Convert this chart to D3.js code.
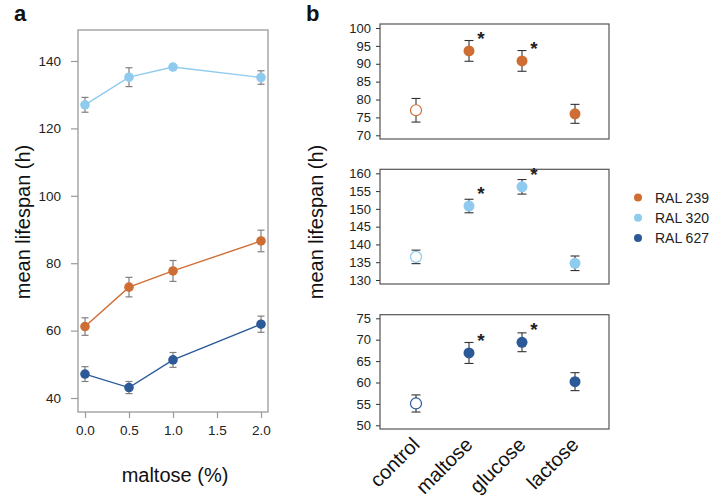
<!DOCTYPE html>
<html>
<head>
<meta charset="utf-8">
<script src="https://cdn.jsdelivr.net/npm/d3@7"></script>
<style>
  body { margin: 0; background: #fff; }
  svg { font-family: "Liberation Sans", Arial, Helvetica, sans-serif; }
</style>
</head>
<body>
<svg id="chart" width="709" height="501"></svg>
<script>
// ---- data: panel a (maltose dose response) ----
var doses = [0, 0.5, 1.0, 2.0];
var strains = ["RAL 239", "RAL 320", "RAL 627"];
var colors = ["#cf6e34", "#8ecbee", "#2c5a98"];
var meanA_239 = [61.2, 72.9, 77.7, 86.6];
var errA_239 = [2.6, 2.9, 3.1, 3.2];
var meanA_320 = [127.0, 135.2, 138.2, 135.1];
var errA_320 = [2.2, 2.8, 0.6, 2.0];
var meanA_627 = [47.1, 43.1, 51.3, 61.9];
var errA_627 = [2.2, 1.8, 2.2, 2.4];
var doseTicks = [0, 0.5, 1.0, 1.5, 2.0];
var lifespanTicksA = [40, 60, 80, 100, 120, 140];

// ---- data: panel b (sugars) ----
var sugars = ["control", "maltose", "glucose", "lactose"];
var meanB_239 = [77.0, 93.6, 90.8, 76.0];
var errB_239 = [3.3, 2.9, 2.9, 2.65];
var meanB_320 = [136.5, 150.8, 156.2, 134.7];
var errB_320 = [1.9, 1.9, 2.05, 2.05];
var meanB_627 = [55.1, 66.9, 69.4, 60.2];
var errB_627 = [2.0, 2.45, 2.2, 2.1];
var signif = [false, true, true, false];
var ticksB_239 = [70, 75, 80, 85, 90, 95, 100];
var ticksB_320 = [130, 135, 140, 145, 150, 155, 160];
var ticksB_627 = [50, 55, 60, 65, 70, 75];

var svg = d3.select("#chart");

/** Panel a **/
var xA = d3.scaleLinear().domain([0, 2]).range([85, 261]);
var yA = d3.scaleLinear().domain([40, 140]).range([398, 61]);

svg.append("rect")
    .attr("x", 78).attr("y", 30).attr("width", 190).attr("height", 382)
    .attr("fill", "none").attr("stroke", "#9a9a9a").attr("stroke-width", 1.3);

var axA_y = svg.append("g").attr("transform", "translate(78,0)")
    .call(d3.axisLeft(yA).tickValues(lifespanTicksA).tickSize(7).tickPadding(10).tickFormat(d3.format("d")));
var axA_x = svg.append("g").attr("transform", "translate(0,412)")
    .call(d3.axisBottom(xA).tickValues(doseTicks).tickSize(6).tickPadding(7).tickFormat(d3.format(".1f")));
[axA_y, axA_x].forEach(function (ax) {
    ax.select(".domain").remove();
    ax.selectAll("line").attr("stroke", "#9a9a9a").attr("stroke-width", 1.2);
    ax.selectAll("text").attr("fill", "#222").style("font-size", "13.5px");
});

var seriesA = [
    {name: strains[0], color: colors[0], mean: meanA_239, err: errA_239},
    {name: strains[1], color: colors[1], mean: meanA_320, err: errA_320},
    {name: strains[2], color: colors[2], mean: meanA_627, err: errA_627}
];

seriesA.forEach(function (s) {
    var pts = doses.map(function (d, i) { return {x: d, m: s.mean[i], e: s.err[i]}; });
    var line = d3.line().x(function (d) { return xA(d.x); }).y(function (d) { return yA(d.m); });
    svg.append("path").datum(pts)
        .attr("d", line).attr("fill", "none")
        .attr("stroke", s.color).attr("stroke-width", 1.4);
    var g = svg.append("g").selectAll("g").data(pts).enter().append("g");
    g.append("line")
        .attr("x1", function (d) { return xA(d.x); }).attr("x2", function (d) { return xA(d.x); })
        .attr("y1", function (d) { return yA(d.m - d.e); }).attr("y2", function (d) { return yA(d.m + d.e); })
        .attr("stroke", "#808080").attr("stroke-width", 1.2);
    [-1, 1].forEach(function (sign) {
        g.append("line")
            .attr("x1", function (d) { return xA(d.x) - 3.5; }).attr("x2", function (d) { return xA(d.x) + 3.5; })
            .attr("y1", function (d) { return yA(d.m + sign * d.e); }).attr("y2", function (d) { return yA(d.m + sign * d.e); })
            .attr("stroke", "#808080").attr("stroke-width", 1.2);
    });
    g.append("circle")
        .attr("cx", function (d) { return xA(d.x); }).attr("cy", function (d) { return yA(d.m); })
        .attr("r", 4.8).attr("fill", s.color);
});

svg.append("text").text("mean lifespan (h)")
    .attr("transform", "translate(30,222) rotate(-90)")
    .attr("text-anchor", "middle").style("font-size", "20px").attr("fill", "#111");
svg.append("text").text("maltose (%)")
    .attr("x", 175).attr("y", 482)
    .attr("text-anchor", "middle").style("font-size", "20px").attr("fill", "#111");
svg.append("text").text("a")
    .attr("x", 14).attr("y", 21)
    .style("font-size", "22px").style("font-weight", 700).attr("fill", "#111");

/** Panel b **/
var xB = d3.scalePoint().domain(sugars).range([416, 575]);

var panelsB = [
    {color: colors[0], mean: meanB_239, err: errB_239, ticks: ticksB_239, domain: [70, 100], range: [135.3, 28], box: [24, 139]},
    {color: colors[1], mean: meanB_320, err: errB_320, ticks: ticksB_320, domain: [130, 160], range: [280, 173.3], box: [169.3, 284]},
    {color: colors[2], mean: meanB_627, err: errB_627, ticks: ticksB_627, domain: [50, 75], range: [425.3, 318.3], box: [314.7, 429]}
];

panelsB.forEach(function (p) {
    var y = d3.scaleLinear().domain(p.domain).range(p.range);
    svg.append("rect")
        .attr("x", 380).attr("y", p.box[0]).attr("width", 229).attr("height", p.box[1] - p.box[0])
        .attr("fill", "none").attr("stroke", "#555").attr("stroke-width", 1.2);
    var ax = svg.append("g").attr("transform", "translate(380,0)")
        .call(d3.axisLeft(y).tickValues(p.ticks).tickSize(4).tickPadding(5).tickFormat(d3.format("d")));
    ax.select(".domain").remove();
    ax.selectAll("line").attr("stroke", "#333");
    ax.selectAll("text").attr("fill", "#222").style("font-size", "13px");

    var pts = sugars.map(function (s, i) { return {s: s, m: p.mean[i], e: p.err[i], star: signif[i]}; });
    var g = svg.append("g").selectAll("g").data(pts).enter().append("g");
    g.append("line")
        .attr("x1", function (d) { return xB(d.s); }).attr("x2", function (d) { return xB(d.s); })
        .attr("y1", function (d) { return y(d.m - d.e); }).attr("y2", function (d) { return y(d.m + d.e); })
        .attr("stroke", "#333").attr("stroke-width", 1.1);
    [-1, 1].forEach(function (sign) {
        g.append("line")
            .attr("x1", function (d) { return xB(d.s) - 4.5; }).attr("x2", function (d) { return xB(d.s) + 4.5; })
            .attr("y1", function (d) { return y(d.m + sign * d.e); }).attr("y2", function (d) { return y(d.m + sign * d.e); })
            .attr("stroke", "#333").attr("stroke-width", 1.1);
    });
    g.append("circle")
        .attr("cx", function (d) { return xB(d.s); }).attr("cy", function (d) { return y(d.m); })
        .attr("r", 5.5)
        .attr("fill", function (d) { return d.s === "control" ? "#fff" : p.color; })
        .attr("stroke", function (d) { return d.s === "control" ? p.color : "none"; })
        .attr("stroke-width", 1.2);
    g.filter(function (d) { return d.star; }).append("text").text("*")
        .attr("x", function (d) { return xB(d.s) + 12; })
        .attr("y", function (d) { return y(d.m) - 6; })
        .attr("text-anchor", "middle")
        .style("font-size", "19px").style("font-weight", 700).attr("fill", "#222");
});

svg.selectAll(".xlab").data(sugars).enter().append("text")
    .attr("class", "xlab")
    .text(function (d) { return d; })
    .attr("transform", function (d) { return "translate(" + (xB(d) - 3) + ",438) rotate(-45)"; })
    .attr("text-anchor", "end").attr("dy", "0.55em")
    .style("font-size", "20px").attr("fill", "#111");

svg.append("text").text("mean lifespan (h)")
    .attr("transform", "translate(323,222) rotate(-90)")
    .attr("text-anchor", "middle").style("font-size", "20px").attr("fill", "#111");
svg.append("text").text("b")
    .attr("x", 306).attr("y", 21)
    .style("font-size", "22px").style("font-weight", 700).attr("fill", "#111");

/** Legend **/
var legend = svg.append("g").selectAll("g").data(strains).enter().append("g")
    .attr("transform", function (d, i) { return "translate(638," + (197.5 + i * 20.2) + ")"; });
legend.append("circle").attr("r", 4).attr("fill", function (d, i) { return colors[i]; });
legend.append("text").text(function (d) { return d; })
    .attr("x", 17).attr("dy", "0.36em")
    .style("font-size", "14px").attr("fill", "#222");
</script>
</body>
</html>
